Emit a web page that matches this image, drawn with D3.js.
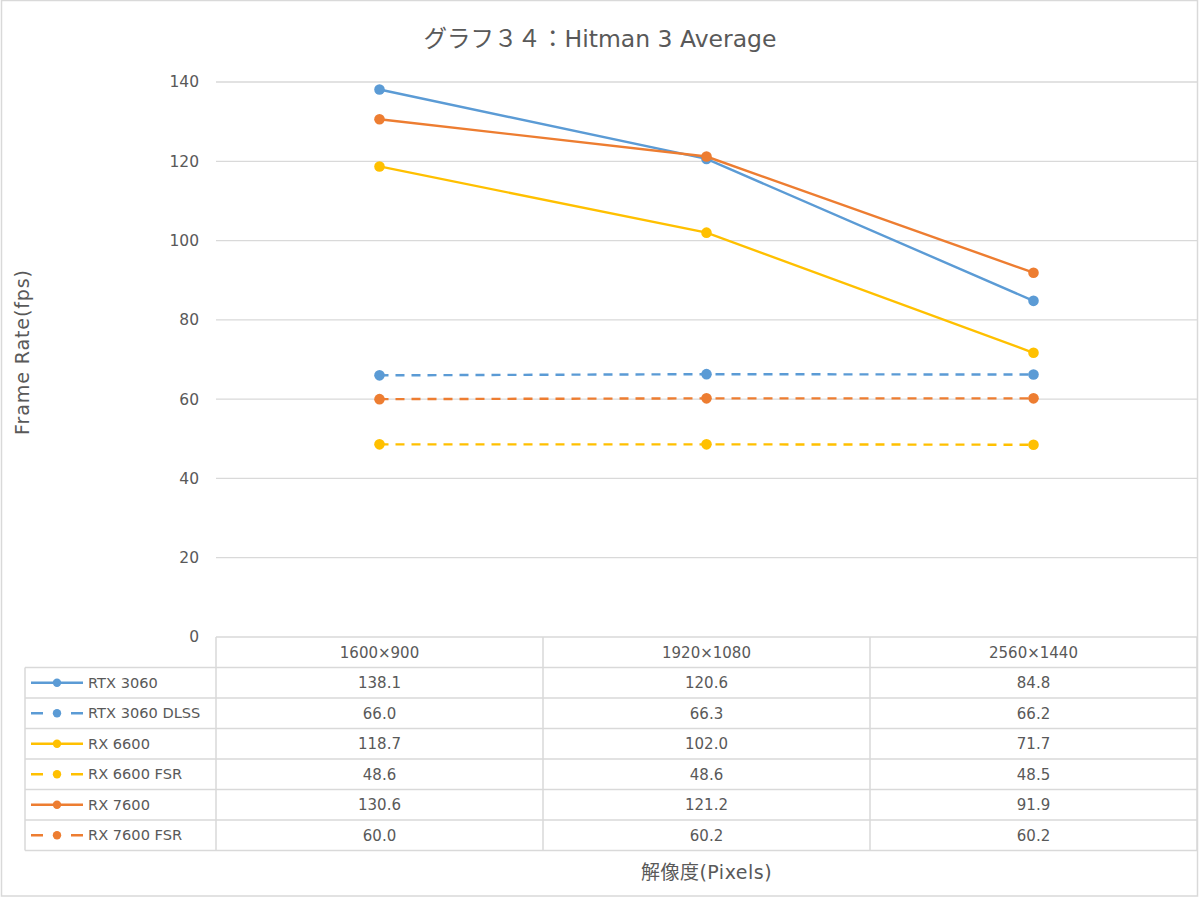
<!DOCTYPE html>
<html><head><meta charset="utf-8">
<script src="https://cdn.jsdelivr.net/npm/d3@7"></script>
<style>body{margin:0;background:#fff;} svg{display:block;}</style>
</head><body>
<script>
const categories = ["1600×900", "1920×1080", "2560×1440"];
const seriesNames = ["RTX 3060", "RTX 3060 DLSS", "RX 6600", "RX 6600 FSR", "RX 7600", "RX 7600 FSR"];
const rtx3060 = [138.1, 120.6, 84.8];
const rtx3060dlss = [66.0, 66.3, 66.2];
const rx6600 = [118.7, 102.0, 71.7];
const rx6600fsr = [48.6, 48.6, 48.5];
const rx7600 = [130.6, 121.2, 91.9];
const rx7600fsr = [60.0, 60.2, 60.2];
const yTicks = [0, 20, 40, 60, 80, 100, 120, 140];
const seriesValues = [rtx3060, rtx3060dlss, rx6600, rx6600fsr, rx7600, rx7600fsr];
const seriesColors = ["#5B9BD5", "#5B9BD5", "#FFC000", "#FFC000", "#ED7D31", "#ED7D31"];
const seriesDashed = [false, true, false, true, false, true];

const W = 1200, H = 898;
const font = "'DejaVu Sans', 'Noto Sans CJK JP', sans-serif";
const txt = "#595959", grid = "#D9D9D9";
const svg = d3.select("body").append("svg").attr("width", W).attr("height", H);

svg.append("rect").attr("x", 1.5).attr("y", 0.5).attr("width", 1196).attr("height", 895.5)
  .attr("fill", "#fff").attr("stroke", grid).attr("stroke-width", 1.5);

const plotL = 216, plotR = 1197, plotT = 82, plotB = 637;
const x = d3.scaleBand().domain(categories).range([plotL, plotR]);
const y = d3.scaleLinear().domain([0, 140]).range([plotB, plotT]);

// gridlines
svg.append("g").selectAll("line").data(yTicks).join("line")
  .attr("x1", plotL).attr("x2", plotR).attr("y1", d => y(d)).attr("y2", d => y(d))
  .attr("stroke", grid).attr("stroke-width", 1.3);

// y axis labels
const yAxis = d3.axisLeft(y).tickValues(yTicks).tickSize(0).tickPadding(0);
const ya = svg.append("g").attr("transform", `translate(${199},0)`).call(yAxis);
ya.select(".domain").remove();
ya.selectAll("text").attr("font-family", font).attr("font-size", 15.5).attr("fill", txt).attr("dy", "0.32em");

// title
svg.append("text").attr("x", 600).attr("y", 47).attr("text-anchor", "middle")
  .attr("font-family", font).attr("font-size", 23.5).attr("fill", txt).text("グラフ３４：Hitman 3 Average");

// y title
svg.append("text").attr("transform", `translate(29,${352}) rotate(-90)`).attr("text-anchor", "middle")
  .attr("font-family", font).attr("font-size", 19).attr("letter-spacing", 0.9).attr("fill", txt).text("Frame Rate(fps)");

// x title
svg.append("text").attr("x", (plotL + plotR) / 2).attr("y", 879).attr("text-anchor", "middle")
  .attr("font-family", font).attr("font-size", 19).attr("letter-spacing", 0.5).attr("fill", txt).text("解像度(Pixels)");

// lines
const line = d3.line().x((d, i) => x(categories[i]) + x.bandwidth() / 2).y(d => y(d));
seriesValues.forEach((vals, s) => {
  const g = svg.append("g");
  g.append("path").attr("d", line(vals)).attr("fill", "none").attr("stroke", seriesColors[s])
    .attr("stroke-width", 2.4).attr("stroke-dasharray", seriesDashed[s] ? "9,7" : null);
  g.selectAll("circle").data(vals).join("circle")
    .attr("cx", (d, i) => x(categories[i]) + x.bandwidth() / 2).attr("cy", d => y(d))
    .attr("r", 5.3).attr("fill", seriesColors[s]);
});

// data table
const tableL = 25, headerT = plotB, rowH = 30.5;
const rowY = i => headerT + rowH * (i + 1);
const tg = svg.append("g");
const tableB = rowY(seriesNames.length);
for (let i = 0; i <= seriesNames.length; i++) {
  tg.append("line").attr("x1", tableL).attr("x2", plotR).attr("y1", rowY(i)).attr("y2", rowY(i))
    .attr("stroke", grid).attr("stroke-width", 1.5);
}
tg.append("line").attr("x1", tableL).attr("x2", tableL).attr("y1", rowY(0)).attr("y2", tableB).attr("stroke", grid).attr("stroke-width", 1.5);
categories.forEach(c => {
  const xx = x(c);
  tg.append("line").attr("x1", xx).attr("x2", xx).attr("y1", headerT).attr("y2", tableB).attr("stroke", grid).attr("stroke-width", 1.5);
});
tg.append("line").attr("x1", plotR).attr("x2", plotR).attr("y1", headerT).attr("y2", tableB).attr("stroke", grid).attr("stroke-width", 1.5);

categories.forEach(c => {
  tg.append("text").attr("x", x(c) + x.bandwidth() / 2).attr("y", headerT + rowH / 2).attr("dy", "0.35em")
    .attr("text-anchor", "middle").attr("font-family", font).attr("font-size", 15).attr("fill", txt).text(c);
});
seriesNames.forEach((name, s) => {
  const cy = rowY(s) + rowH / 2;
  tg.append("line").attr("x1", 31).attr("x2", 83).attr("y1", cy).attr("y2", cy)
    .attr("stroke", seriesColors[s]).attr("stroke-width", 2.4).attr("stroke-dasharray", seriesDashed[s] ? "12,28" : null);
  tg.append("circle").attr("cx", 57).attr("cy", cy).attr("r", 4.2).attr("fill", seriesColors[s]);
  tg.append("text").attr("x", 88).attr("y", cy).attr("dy", "0.35em").attr("font-family", font).attr("font-size", 14.6)
    .attr("fill", txt).text(name);
  seriesValues[s].forEach((v, i) => {
    tg.append("text").attr("x", x(categories[i]) + x.bandwidth() / 2).attr("y", cy).attr("dy", "0.35em")
      .attr("text-anchor", "middle").attr("font-family", font).attr("font-size", 15).attr("fill", txt).text(v.toFixed(1));
  });
});
</script>
</body></html>
